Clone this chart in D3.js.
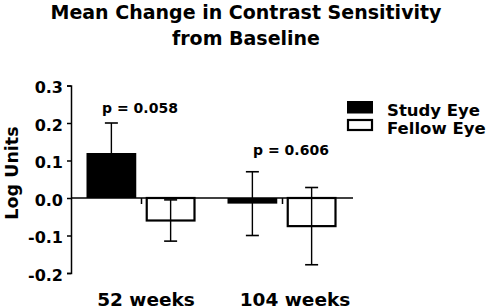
<!DOCTYPE html>
<html>
<head>
<meta charset="utf-8">
<script src="https://cdn.jsdelivr.net/npm/d3@7"></script>
<style>
  body { margin: 0; background: #fff; }
  text { font-family: 'DejaVu Sans', Verdana, sans-serif; font-weight: bold; fill: #000; }
</style>
</head>
<body>
<div id="chart"></div>
<script>
// data
const categories = ['52 weeks', '104 weeks']
const seriesNames = ['Study Eye', 'Fellow Eye']
const studyMean = [0.12, -0.015]
const studyErr = [0.08, 0.085]
const fellowMean = [-0.06, -0.075]
const fellowErr = [0.055, 0.103]
const pLabels = ['p = 0.058', 'p = 0.606']
const yTicks = [-0.2, -0.1, 0.0, 0.1, 0.2, 0.3]

const W = 492, H = 308

const svg = d3.select('#chart').append('svg')
  .attr('width', W).attr('height', H)

// Title
svg.append('text').attr('x', 246).attr('y', 18.5)
  .attr('text-anchor', 'middle').style('font-size', '19px')
  .text('Mean Change in Contrast Sensitivity')
svg.append('text').attr('x', 246).attr('y', 45)
  .attr('text-anchor', 'middle').style('font-size', '19px')
  .text('from Baseline')

const y = d3.scaleLinear().domain([-0.2, 0.3]).range([273, 85.5])
const x = d3.scaleBand().domain(categories).range([71, 353])
const xs = d3.scaleBand().domain(seriesNames).range([-55, 54]).paddingInner(0.16)

// y axis
const yAxis = svg.append('g').attr('transform', 'translate(71,0)')
  .call(d3.axisLeft(y).tickValues(yTicks).tickSizeOuter(0).tickSize(4).tickPadding(4))
yAxis.select('.domain').attr('stroke', '#000').attr('stroke-width', 1.5)
yAxis.selectAll('.tick line').attr('stroke', '#000').attr('stroke-width', 1.5)
yAxis.selectAll('.tick text').style('font-size', '16px')
  .attr('dy', '0.45em')
  .text(d => d3.format('.1f')(d).replace('−', '-'))

svg.append('text')
  .attr('transform', 'translate(18,173) rotate(-90)')
  .attr('text-anchor', 'middle').style('font-size', '17.5px')
  .text('Log Units')

const groups = categories.map((c, i) => ({
  cat: c,
  bars: [
    { s: seriesNames[0], m: studyMean[i], e: studyErr[i] },
    { s: seriesNames[1], m: fellowMean[i], e: fellowErr[i] }
  ]
}))

const g = svg.selectAll('.grp').data(groups).join('g')
  .attr('class', 'grp')
  .attr('transform', d => `translate(${x(d.cat) + x.bandwidth() / 2},0)`)

// bars
g.selectAll('rect').data(d => d.bars).join('rect')
  .attr('x', d => d.s === 'Study Eye' ? xs(d.s) : xs(d.s) + 1)
  .attr('width', d => d.s === 'Study Eye' ? xs.bandwidth() : xs.bandwidth() - 2)
  .attr('y', d => Math.min(y(d.m), y(0)))
  .attr('height', d => Math.abs(y(d.m) - y(0)))
  .attr('fill', d => d.s === 'Study Eye' ? '#000' : '#fff')
  .attr('stroke', d => d.s === 'Study Eye' ? 'none' : '#000')
  .attr('stroke-width', 2.2)

// error bars
const eb = g.selectAll('.eb').data(d => d.bars).join('g').attr('class', 'eb')
  .attr('transform', d => `translate(${xs(d.s) + xs.bandwidth() / 2},0)`)
eb.append('line').attr('x1', 0).attr('x2', 0)
  .attr('y1', d => y(d.m + d.e)).attr('y2', d => y(d.m - d.e))
  .attr('stroke', '#000').attr('stroke-width', 1.4)
eb.selectAll('.cap').data(d => [d.m + d.e, d.m - d.e]).join('line').attr('class', 'cap')
  .attr('x1', -6.5).attr('x2', 6.5)
  .attr('y1', v => y(v)).attr('y2', v => y(v))
  .attr('stroke', '#000').attr('stroke-width', 1.6)

// x axis at zero
svg.append('line').attr('x1', 71).attr('x2', 353)
  .attr('y1', y(0)).attr('y2', y(0))
  .attr('stroke', '#000').attr('stroke-width', 1.5)
g.append('line').attr('x1', 0).attr('x2', 0)
  .attr('y1', y(0)).attr('y2', y(0) + 6)
  .attr('stroke', '#000').attr('stroke-width', 1.5)

// category labels
const catDx = [4.5, 12.5]
g.append('text').attr('x', (d, i) => catDx[i]).attr('y', 305.5)
  .attr('text-anchor', 'middle').style('font-size', '18.5px')
  .text(d => d.cat)

// p values
const pY = [0.228, 0.115]
const pDx = [-1.5, 8.5]
g.append('text')
  .attr('x', (d, i) => pDx[i]).attr('y', (d, i) => y(pY[i]))
  .attr('text-anchor', 'middle').style('font-size', '14px')
  .text((d, i) => pLabels[i])

// legend
const leg = svg.append('g').attr('transform', 'translate(347,101)')
const li = leg.selectAll('g').data(seriesNames).join('g')
  .attr('transform', (d, i) => `translate(0,${i * 18})`)
li.append('rect')
  .attr('x', d => d === 'Study Eye' ? 0 : 1)
  .attr('y', d => d === 'Study Eye' ? 0 : 1)
  .attr('width', d => d === 'Study Eye' ? 26 : 24)
  .attr('height', d => d === 'Study Eye' ? 12.5 : 10)
  .attr('fill', d => d === 'Study Eye' ? '#000' : '#fff')
  .attr('stroke', d => d === 'Study Eye' ? 'none' : '#000')
  .attr('stroke-width', 2.2)
li.append('text').attr('x', 40).attr('y', 15)
  .style('font-size', '16.5px').text(d => d)
</script>
</body>
</html>
